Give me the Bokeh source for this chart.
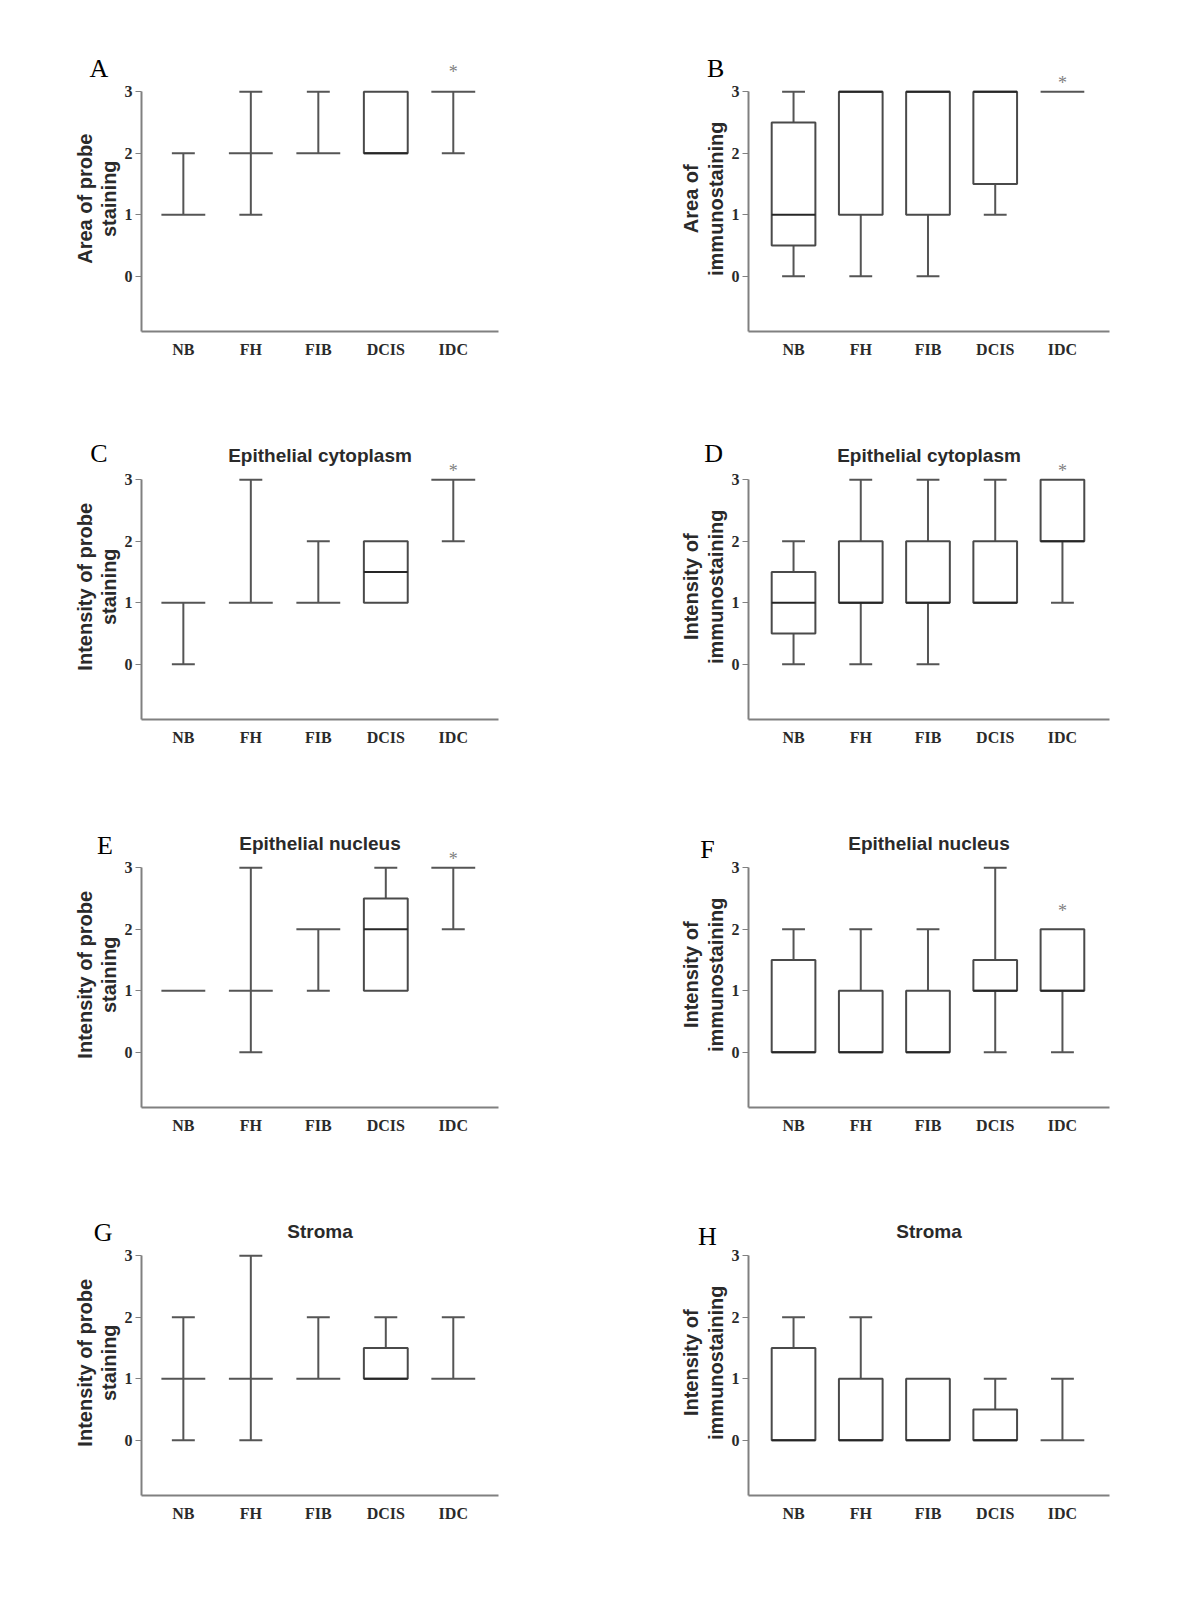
import math
from bokeh.plotting import figure
from bokeh.layouts import row, column
from bokeh.models import FixedTicker, Label, ColumnDataSource
from bokeh.embed import file_html
from bokeh.resources import INLINE
from bokeh.core.properties import value

groups = ["NB", "FH", "FIB", "DCIS", "IDC"]
y_ticks = [0, 1, 2, 3]

# five-number summaries (min, Q1, median, Q3, max) per panel
A_min = [1, 1, 2, 2, 2]; A_q1 = [1, 2, 2, 2, 3]; A_med = [1, 2, 2, 2, 3]; A_q3 = [1, 2, 2, 3, 3]; A_max = [2, 3, 3, 3, 3]
B_min = [0, 0, 0, 1, 3]; B_q1 = [0.5, 1, 1, 1.5, 3]; B_med = [1, 3, 3, 3, 3]; B_q3 = [2.5, 3, 3, 3, 3]; B_max = [3, 3, 3, 3, 3]
C_min = [0, 1, 1, 1, 2]; C_q1 = [1, 1, 1, 1, 3]; C_med = [1, 1, 1, 1.5, 3]; C_q3 = [1, 1, 1, 2, 3]; C_max = [1, 3, 2, 2, 3]
D_min = [0, 0, 0, 1, 1]; D_q1 = [0.5, 1, 1, 1, 2]; D_med = [1, 1, 1, 1, 2]; D_q3 = [1.5, 2, 2, 2, 3]; D_max = [2, 3, 3, 3, 3]
E_min = [1, 0, 1, 1, 2]; E_q1 = [1, 1, 2, 1, 3]; E_med = [1, 1, 2, 2, 3]; E_q3 = [1, 1, 2, 2.5, 3]; E_max = [1, 3, 2, 3, 3]
F_min = [0, 0, 0, 0, 0]; F_q1 = [0, 0, 0, 1, 1]; F_med = [0, 0, 0, 1, 1]; F_q3 = [1.5, 1, 1, 1.5, 2]; F_max = [2, 2, 2, 3, 2]
G_min = [0, 0, 1, 1, 1]; G_q1 = [1, 1, 1, 1, 1]; G_med = [1, 1, 1, 1, 1]; G_q3 = [1, 1, 1, 1.5, 1]; G_max = [2, 3, 2, 2, 2]
H_min = [0, 0, 0, 0, 0]; H_q1 = [0, 0, 0, 0, 0]; H_med = [0, 0, 0, 0, 0]; H_q3 = [1.5, 1, 1, 0.5, 0]; H_max = [2, 2, 1, 1, 1]

label_probe_area = "Area of probe\nstaining"
label_immuno_area = "Area of\nimmunostaining"
label_probe_int = "Intensity of probe\nstaining"
label_immuno_int = "Intensity of\nimmunostaining"

BOX_HALF = 0.325
CAP_HALF = 0.17
WHISK = "#555555"
BOXC = "#4a4a4a"
MEDC = "#262626"


def panel(letter, ylabel, title, mins, q1s, meds, q3s, maxs, star_dy, col, top_row, let_pos):
    if col == 0:
        xr = (-0.62, 4.67); fw = 357; bl = 141; br = 102; lab_x = -1.28
    else:
        xr = (-0.67, 4.70); fw = 361; bl = 148; br = 83; lab_x = -1.34
    bt = 36 if top_row else 28
    p = figure(frame_width=fw, frame_height=295, x_range=xr, y_range=(-0.9, 3.9),
               min_border_left=bl, min_border_right=br, min_border_top=bt, min_border_bottom=65,
               output_backend="svg", toolbar_location=None)
    p.xgrid.visible = False
    p.ygrid.visible = False
    p.outline_line_color = None
    p.background_fill_color = "white"
    p.border_fill_color = "white"

    xs = list(range(len(groups)))
    wx0, wy0, wy1 = [], [], []
    cx0, cx1, cy = [], [], []
    for i in xs:
        if maxs[i] > q3s[i]:
            wx0.append(i); wy0.append(q3s[i]); wy1.append(maxs[i])
            cx0.append(i - CAP_HALF); cx1.append(i + CAP_HALF); cy.append(maxs[i])
        if mins[i] < q1s[i]:
            wx0.append(i); wy0.append(q1s[i]); wy1.append(mins[i])
            cx0.append(i - CAP_HALF); cx1.append(i + CAP_HALF); cy.append(mins[i])
    p.segment(x0=wx0, y0=wy0, x1=wx0, y1=wy1, line_color=WHISK, line_width=2)
    p.segment(x0=cx0, y0=cy, x1=cx1, y1=cy, line_color=WHISK, line_width=2)
    bxs = [i for i in xs if q3s[i] > q1s[i]]
    box_src = ColumnDataSource(dict(
        left=[i - BOX_HALF for i in bxs], right=[i + BOX_HALF for i in bxs],
        bottom=[q1s[i] for i in bxs], top=[q3s[i] for i in bxs]))
    p.quad(left="left", right="right", bottom="bottom", top="top", source=box_src,
           fill_color="white", line_color=BOXC, line_width=2)
    degenerate = [i for i in xs if q3s[i] <= q1s[i]]
    p.segment(x0=[i - BOX_HALF for i in degenerate], x1=[i + BOX_HALF for i in degenerate],
              y0=[meds[i] for i in degenerate], y1=[meds[i] for i in degenerate],
              line_color=WHISK, line_width=2)
    p.segment(x0=[i - BOX_HALF for i in bxs], x1=[i + BOX_HALF for i in bxs],
              y0=[meds[i] for i in bxs], y1=[meds[i] for i in bxs],
              line_color=MEDC, line_width=2)

    if star_dy is not None:
        p.text(x=[4], y=[maxs[4] + star_dy], text=["*"], text_font=value("Liberation Serif"),
               text_font_size="18px", text_color="#808080", text_align="center", text_baseline="middle")

    p.xaxis.ticker = FixedTicker(ticks=xs)
    p.xaxis.major_label_overrides = {i: g for i, g in enumerate(groups)}
    p.xaxis.major_tick_line_color = None
    p.xaxis.minor_tick_line_color = None
    p.xaxis.axis_line_color = "#808080"
    p.xaxis.axis_line_width = 2
    p.xaxis.major_label_text_font = "Liberation Serif"
    p.xaxis.major_label_text_font_style = "bold"
    p.xaxis.major_label_text_font_size = "16px"
    p.xaxis.major_label_text_color = "#2a2a2a"
    p.xaxis.major_label_standoff = 3

    p.yaxis.ticker = FixedTicker(ticks=y_ticks)
    p.yaxis.bounds = (-0.9, 3)
    p.yaxis.minor_tick_line_color = None
    p.yaxis.major_tick_in = 0
    p.yaxis.major_tick_out = 6
    p.yaxis.major_tick_line_color = "#808080"
    p.yaxis.major_tick_line_width = 1
    p.yaxis.axis_line_color = "#808080"
    p.yaxis.axis_line_width = 2
    p.yaxis.major_label_text_font = "Liberation Serif"
    p.yaxis.major_label_text_font_style = "bold"
    p.yaxis.major_label_text_font_size = "16px"
    p.yaxis.major_label_text_color = "#2a2a2a"
    p.yaxis.major_label_standoff = 3

    p.add_layout(Label(x=lab_x, y=1.26, text=ylabel, angle=math.pi / 2,
                       text_font="Liberation Sans", text_font_style="bold",
                       text_font_size="20px", text_color="#2a2a2a", text_line_height=1.1,
                       text_align="center", text_baseline="middle"), "left")
    p.add_layout(Label(x=let_pos[0], y=let_pos[1], text=letter, text_font="Liberation Serif",
                       text_font_size="26px", text_color="black",
                       text_align="center", text_baseline="middle"), "left")
    if title:
        p.add_layout(Label(x=(xr[0] + xr[1]) / 2, y=3.4, text=title, text_font="Liberation Sans",
                           text_font_style="bold", text_font_size="19px", text_color="#2a2a2a",
                           text_align="center", text_baseline="middle"))
    return p


pA = panel("A", label_probe_area, None, A_min, A_q1, A_med, A_q3, A_max, 0.32, 0, True, (-1.25, 3.38))
pB = panel("B", label_immuno_area, None, B_min, B_q1, B_med, B_q3, B_max, 0.14, 1, True, (-1.16, 3.38))
pC = panel("C", label_probe_int, "Epithelial cytoplasm", C_min, C_q1, C_med, C_q3, C_max, 0.15, 0, False, (-1.25, 3.43))
pD = panel("D", label_immuno_int, "Epithelial cytoplasm", D_min, D_q1, D_med, D_q3, D_max, 0.15, 1, False, (-1.19, 3.43))
pE = panel("E", label_probe_int, "Epithelial nucleus", E_min, E_q1, E_med, E_q3, E_max, 0.15, 0, False, (-1.16, 3.36))
pF = panel("F", label_immuno_int, "Epithelial nucleus", F_min, F_q1, F_med, F_q3, F_max, 0.3, 1, False, (-1.28, 3.29))
pG = panel("G", label_probe_int, "Stroma", G_min, G_q1, G_med, G_q3, G_max, None, 0, False, (-1.19, 3.38))
pH = panel("H", label_immuno_int, "Stroma", H_min, H_q1, H_med, H_q3, H_max, None, 1, False, (-1.28, 3.31))

layout = column(row(pA, pB), row(pC, pD), row(pE, pF), row(pG, pH))
open("out.html", "w").write(file_html(layout, INLINE))
